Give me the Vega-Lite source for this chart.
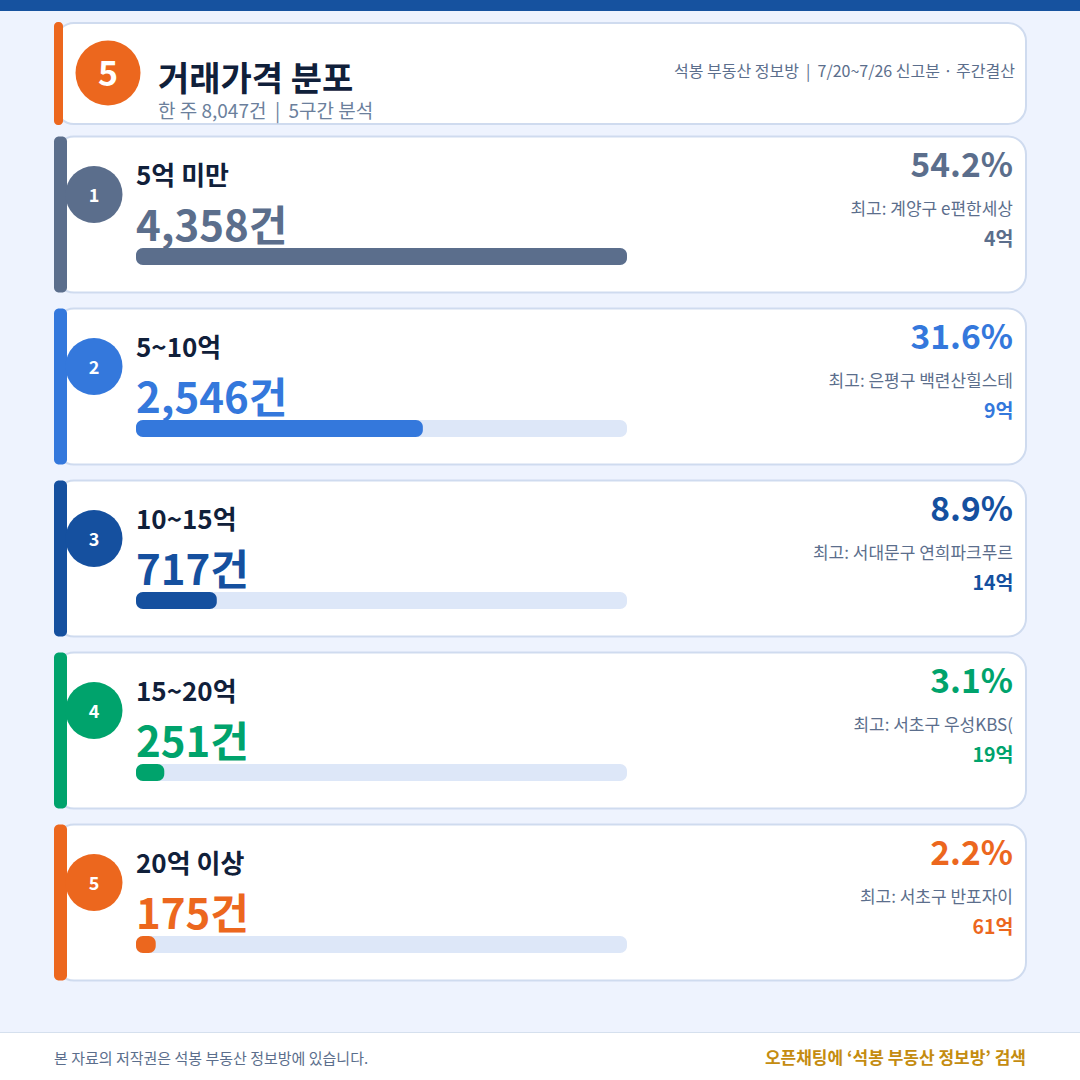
{
  "$schema": "https://vega.github.io/schema/vega-lite/v6.json",
  "width": 1080,
  "height": 1080,
  "padding": 0,
  "autosize": "none",
  "background": "#EEF3FE",
  "config": {"view": {"stroke": null}, "text": {"font": "Noto Sans CJK KR"}},
  "data": {"values": [
    {"band": "5억 미만", "rank": 1, "count": 4358, "countLabel": "4,358건", "share": "54.2%", "top": "최고: 계양구 e편한세상\u00a0", "price": "4억"},
    {"band": "5~10억", "rank": 2, "count": 2546, "countLabel": "2,546건", "share": "31.6%", "top": "최고: 은평구 백련산힐스테", "price": "9억"},
    {"band": "10~15억", "rank": 3, "count": 717, "countLabel": "717건", "share": "8.9%", "top": "최고: 서대문구 연희파크푸르", "price": "14억"},
    {"band": "15~20억", "rank": 4, "count": 251, "countLabel": "251건", "share": "3.1%", "top": "최고: 서초구 우성KBS(", "price": "19억"},
    {"band": "20억 이상", "rank": 5, "count": 175, "countLabel": "175건", "share": "2.2%", "top": "최고: 서초구 반포자이", "price": "61억"}
  ]},
  "encoding": {
    "y": {
      "field": "band",
      "type": "nominal",
      "axis": null,
      "scale": {"type": "band", "domain": ["5억 미만", "5~10억", "10~15억", "15~20억", "20억 이상"], "range": [136.5, 980.5], "paddingInner": 0.093, "paddingOuter": 0}
    },
    "color": {
      "field": "band",
      "type": "nominal",
      "legend": null,
      "scale": {"domain": ["5억 미만", "5~10억", "10~15억", "15~20억", "20억 이상"], "range": ["#5B6E8C", "#3478DC", "#15509F", "#00A36C", "#EC671E"]}
    }
  },
  "layer": [
    {
      "data": {"values": [{"part": "top"}]},
      "mark": {"type": "rect"},
      "encoding": {"x": {"value": 0}, "x2": {"value": 1080}, "y": {"value": 0}, "y2": {"value": 11}, "color": {"value": "#16529F"}}
    },
    {
      "data": {"values": [{"part": "footer"}]},
      "mark": {"type": "rect", "stroke": "#D5E0EE", "strokeWidth": 1},
      "encoding": {"x": {"value": -2}, "x2": {"value": 1082}, "y": {"value": 1032.5}, "y2": {"value": 1084}, "color": {"value": "#FFFFFF"}}
    },
    {
      "data": {"values": [{"part": "header"}]},
      "mark": {"type": "rect", "stroke": "#CFDBEF", "strokeWidth": 2, "cornerRadius": 18},
      "encoding": {"x": {"value": 56}, "x2": {"value": 1026}, "y": {"value": 23}, "y2": {"value": 124}, "color": {"value": "#FFFFFF"}}
    },
    {
      "data": {"values": [{"part": "header"}]},
      "mark": {"type": "rect", "cornerRadius": 4},
      "encoding": {"x": {"value": 54}, "x2": {"value": 63}, "y": {"value": 22}, "y2": {"value": 125}, "color": {"value": "#EC671E"}}
    },
    {
      "data": {"values": [{"part": "header"}]},
      "mark": {"type": "point", "filled": true, "shape": "circle", "size": 4225, "opacity": 1},
      "encoding": {"x": {"value": 108}, "y": {"value": 73}, "color": {"value": "#EC671E"}}
    },
    {
      "data": {"values": [{"text": "5"}]},
      "mark": {"type": "text", "fontSize": 34, "fontWeight": 700, "align": "center", "baseline": "middle"},
      "encoding": {"x": {"value": 108}, "y": {"value": 76}, "text": {"field": "text", "type": "nominal"}, "color": {"value": "#FFFFFF"}}
    },
    {
      "data": {"values": [{"text": "거래가격 분포"}]},
      "mark": {"type": "text", "fontSize": 34, "fontWeight": 700, "align": "left", "baseline": "middle"},
      "encoding": {"x": {"value": 158}, "y": {"value": 81}, "text": {"field": "text", "type": "nominal"}, "color": {"value": "#10203A"}}
    },
    {
      "data": {"values": [{"text": "한 주 8,047건\u00a0\u00a0|\u00a0\u00a05구간 분석"}]},
      "mark": {"type": "text", "fontSize": 19, "align": "left", "baseline": "middle"},
      "encoding": {"x": {"value": 158}, "y": {"value": 112}, "text": {"field": "text", "type": "nominal"}, "color": {"value": "#6B7F9C"}}
    },
    {
      "data": {"values": [{"text": "석봉 부동산 정보방\u00a0\u00a0|\u00a0\u00a07/20~7/26 신고분 · 주간결산"}]},
      "mark": {"type": "text", "fontSize": 16, "align": "right", "baseline": "middle"},
      "encoding": {"x": {"value": 1015}, "y": {"value": 72}, "text": {"field": "text", "type": "nominal"}, "color": {"value": "#5B6E8C"}}
    },
    {
      "data": {"values": [{"text": "본 자료의 저작권은 석봉 부동산 정보방에 있습니다."}]},
      "mark": {"type": "text", "fontSize": 15, "align": "left", "baseline": "middle"},
      "encoding": {"x": {"value": 54}, "y": {"value": 1059}, "text": {"field": "text", "type": "nominal"}, "color": {"value": "#5B6E8C"}}
    },
    {
      "data": {"values": [{"text": "오픈채팅에 ‘석봉 부동산 정보방’ 검색"}]},
      "mark": {"type": "text", "fontSize": 17, "fontWeight": 700, "align": "right", "baseline": "middle"},
      "encoding": {"x": {"value": 1026}, "y": {"value": 1059}, "text": {"field": "text", "type": "nominal"}, "color": {"value": "#C48C10"}}
    },
    {
      "mark": {"type": "rect", "stroke": "#CFDBEF", "strokeWidth": 2, "cornerRadius": 18},
      "encoding": {"x": {"value": 56}, "x2": {"value": 1026}, "color": {"value": "#FFFFFF"}}
    },
    {
      "mark": {"type": "rect", "cornerRadius": 5},
      "encoding": {"x": {"value": 54}, "x2": {"value": 67}}
    },
    {
      "mark": {"type": "point", "filled": true, "shape": "circle", "size": 3249, "opacity": 1, "yOffset": -20},
      "encoding": {"x": {"value": 94}}
    },
    {
      "mark": {"type": "text", "fontSize": 18, "fontWeight": 700, "align": "center", "baseline": "middle", "yOffset": -17.5},
      "encoding": {"x": {"value": 94}, "text": {"field": "rank", "type": "nominal"}, "color": {"value": "#FFFFFF"}}
    },
    {
      "mark": {"type": "text", "fontSize": 26, "fontWeight": 700, "align": "left", "baseline": "middle", "yOffset": -37.5},
      "encoding": {"x": {"value": 136}, "text": {"field": "band", "type": "nominal"}, "color": {"value": "#10203A"}}
    },
    {
      "mark": {"type": "text", "fontSize": 42, "fontWeight": 700, "align": "left", "baseline": "middle", "yOffset": 13.5},
      "encoding": {"x": {"value": 136}, "text": {"field": "countLabel", "type": "nominal"}}
    },
    {
      "mark": {"type": "bar", "height": 17, "cornerRadius": 7, "yOffset": 42},
      "encoding": {
        "x": {"datum": 4358, "type": "quantitative", "axis": null, "stack": null, "scale": {"domain": [0, 4358], "range": [136, 627]}},
        "color": {"value": "#DDE7F8"}
      }
    },
    {
      "mark": {"type": "bar", "height": 17, "cornerRadius": 7, "yOffset": 42},
      "encoding": {
        "x": {"field": "count", "type": "quantitative", "axis": null, "stack": null, "scale": {"domain": [0, 4358], "range": [136, 627]}}
      }
    },
    {
      "mark": {"type": "text", "fontSize": 33.5, "fontWeight": 700, "align": "right", "baseline": "middle", "yOffset": -47.5},
      "encoding": {"x": {"value": 1013}, "text": {"field": "share", "type": "nominal"}}
    },
    {
      "mark": {"type": "text", "fontSize": 17, "align": "right", "baseline": "middle", "yOffset": -4.5},
      "encoding": {"x": {"value": 1013}, "text": {"field": "top", "type": "nominal"}, "color": {"value": "#5B6E8C"}}
    },
    {
      "mark": {"type": "text", "fontSize": 19.5, "fontWeight": 700, "align": "right", "baseline": "middle", "yOffset": 25.5},
      "encoding": {"x": {"value": 1013.5}, "text": {"field": "price", "type": "nominal"}}
    }
  ]
}
